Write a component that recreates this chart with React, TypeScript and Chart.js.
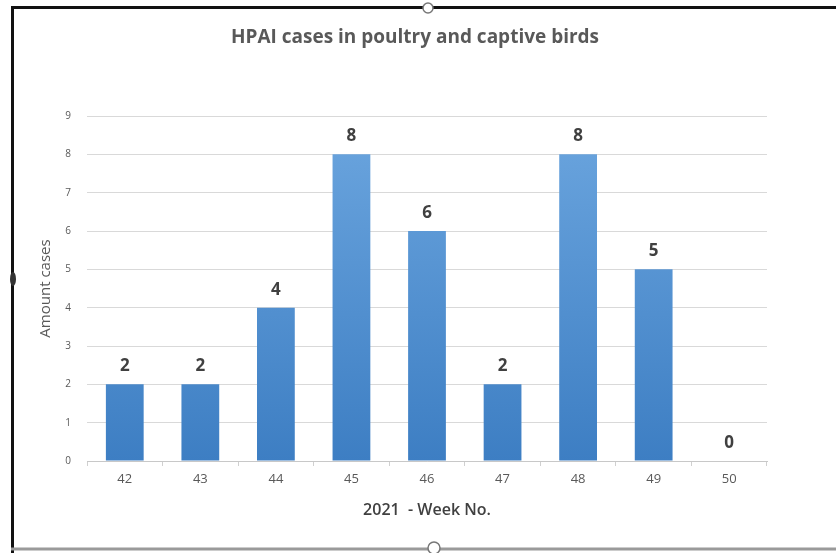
import React, { useEffect, useRef } from "react";
import { Chart, registerables } from "chart.js";

Chart.register(...registerables);

const weeks = ["42", "43", "44", "45", "46", "47", "48", "49", "50"];
const cases = [2, 2, 4, 8, 6, 2, 8, 5, 0];
const chartTitle = "HPAI cases in poultry and captive birds";
const xTitle = "2021  - Week No.";
const yTitle = "Amount cases";

const FONT = "'Open Sans', Lato, sans-serif";

const labelPlugin = {
  id: "barLabels",
  afterDatasetsDraw(chart: any) {
    const ctx = chart.ctx;
    const meta = chart.getDatasetMeta(0);
    ctx.save();
    ctx.font = `bold 17px ${FONT}`;
    ctx.fillStyle = "#404040";
    ctx.textAlign = "center";
    ctx.textBaseline = "alphabetic";
    meta.data.forEach((bar: any, i: number) => {
      ctx.fillText(String(cases[i]), bar.x, bar.y - 13);
    });
    ctx.restore();
  },
};

const titlePlugin = {
  id: "customTitle",
  afterDraw(chart: any) {
    const ctx = chart.ctx;
    ctx.save();
    ctx.font = `bold 19px ${FONT}`;
    ctx.fillStyle = "#595959";
    ctx.textAlign = "center";
    ctx.textBaseline = "middle";
    ctx.fillText(chartTitle, 415, 38);
    ctx.restore();
  },
};

const framePlugin = {
  id: "frame",
  afterDraw(chart: any) {
    const ctx = chart.ctx;
    const w = chart.width;
    ctx.save();
    ctx.strokeStyle = "#111";
    ctx.lineWidth = 3;
    ctx.beginPath();
    ctx.moveTo(12.5, 553);
    ctx.lineTo(12.5, 7.5);
    ctx.lineTo(w, 7.5);
    ctx.stroke();
    ctx.strokeStyle = "#9a9a9a";
    ctx.lineWidth = 3;
    ctx.beginPath();
    ctx.moveTo(11, 549);
    ctx.lineTo(w, 549);
    ctx.stroke();
    ctx.fillStyle = "#fff";
    ctx.strokeStyle = "#777";
    ctx.lineWidth = 1.5;
    ctx.beginPath();
    ctx.arc(428, 8, 5, 0, Math.PI * 2);
    ctx.fill();
    ctx.stroke();
    ctx.beginPath();
    ctx.arc(434, 548, 6, 0, Math.PI * 2);
    ctx.fill();
    ctx.stroke();
    ctx.fillStyle = "#333";
    ctx.beginPath();
    ctx.ellipse(13, 279, 3, 7, 0, 0, Math.PI * 2);
    ctx.fill();
    ctx.restore();
  },
};

export default function App() {
  const ref = useRef<HTMLCanvasElement | null>(null);
  useEffect(() => {
    document.body.style.margin = "0";
    const canvas = ref.current!;
    const chart = new Chart(canvas, {
      type: "bar",
      data: {
        labels: weeks,
        datasets: [
          {
            data: cases,
            backgroundColor: (c: any) => {
              const area = c.chart.chartArea;
              if (!area) return "#4a8ad0";
              const g = c.chart.ctx.createLinearGradient(0, area.top, 0, area.bottom);
              g.addColorStop(0, "#6ca6df");
              g.addColorStop(1, "#3d7ec3");
              return g;
            },
            borderWidth: 0,
            barPercentage: 0.5,
            categoryPercentage: 1,
          },
        ],
      },
      options: {
        animation: false,
        responsive: false,
        maintainAspectRatio: false,
        layout: { padding: { left: 0, right: 69, top: 116, bottom: 0 } },
        plugins: {
          legend: { display: false },
          tooltip: { enabled: false },
          title: { display: false },
        },
        scales: {
          x: {
            offset: true,
            grid: {
              display: true,
              offset: true,
              drawOnChartArea: false,
              drawTicks: true,
              tickLength: 5,
              color: "#d0d0d0",
            },
            border: { display: true, color: "#c8c8c8", width: 1 },
            ticks: {
              color: "#595959",
              font: { family: FONT, size: 13 },
              padding: 5,
            },
            title: {
              display: true,
              text: xTitle,
              color: "#404040",
              font: { family: FONT, size: 16, weight: "600" },
              padding: { top: 0, bottom: 33 },
            },
            afterFit: (s: any) => {
              s.height = 92;
            },
          },
          y: {
            min: 0,
            max: 9,
            ticks: {
              stepSize: 1,
              color: "#595959",
              font: { family: FONT, size: 10 },
              padding: 16,
            },
            grid: { color: "#d9d9d9", drawTicks: false },
            border: { display: false },
            title: {
              display: true,
              text: yTitle,
              color: "#595959",
              font: { family: FONT, size: 15 },
              padding: { top: 37, bottom: 0 },
            },
            afterFit: (s: any) => {
              s.width = 87;
            },
          },
        },
      },
      plugins: [labelPlugin, titlePlugin, framePlugin],
    });
    return () => chart.destroy();
  }, []);
  return (
    <div style={{ position: "fixed", left: 0, top: 0, width: 836, height: 553, background: "#fff" }}>
      <canvas ref={ref} width={836} height={553} style={{ display: "block" }} />
    </div>
  );
}
